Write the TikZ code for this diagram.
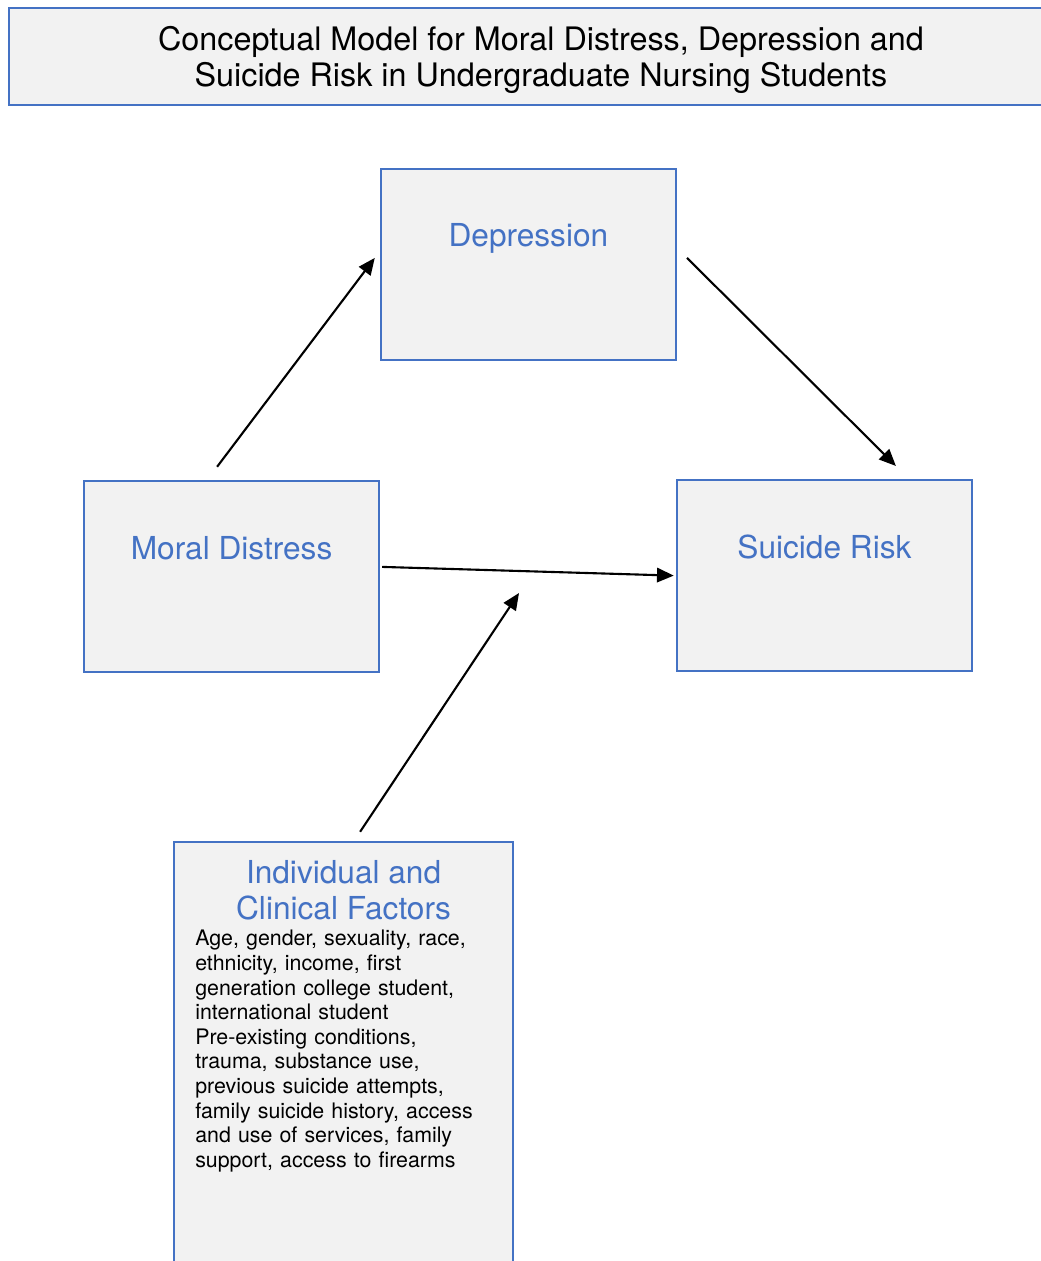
\documentclass[tikz,border=0pt]{standalone}
\usepackage{fontspec}
\setmainfont{TeX Gyre Heros}
\usetikzlibrary{arrows.meta}
\definecolor{boxblue}{HTML}{4472C4}
\definecolor{boxfill}{HTML}{F2F2F2}
\tikzset{
  box/.style={draw=boxblue,fill=boxfill,line width=1.6pt,rectangle,inner sep=0pt},
  lbl/.style={text=boxblue,font=\fontsize{22.5}{25.6}\selectfont,align=center,inner sep=0pt},
  arr/.style={->,line width=1.5pt}
}
\begin{document}
\begin{tikzpicture}[>={Triangle[length=0.42cm,width=0.36cm]}]
\useasboundingbox (0,0) rectangle (26,-31.525);
\node[box,minimum width=26.6cm,minimum height=2.425cm] (title) at (13.525,-1.41) {};
\node[align=center,inner sep=0pt,font=\fontsize{23}{25.8}\selectfont] (titletxt) at (13.525,-1.5) {Conceptual Model for Moral Distress, Depression and\\Suicide Risk in Undergraduate Nursing Students};

\node[box,minimum width=7.375cm,minimum height=4.775cm] (dep) at (13.21,-6.61) {};
\node[lbl] (deplbl) at (13.21,-5.97) {Depression};
\node[box,minimum width=7.375cm,minimum height=4.775cm] (md) at (5.79,-14.41) {};
\node[lbl] (mdlbl) at (5.79,-13.7) {Moral Distress};
\node[box,minimum width=7.375cm,minimum height=4.775cm] (sr) at (20.61,-14.39) {};
\node[lbl] (srlbl) at (20.61,-13.68) {Suicide Risk};

\node[box,minimum width=8.475cm,minimum height=10.825cm] (ind) at (8.59,-26.46) {};
\node[lbl] (indlbl) at (8.59,-22.25) {Individual and\\Clinical Factors};
\node[anchor=north west,inner sep=0pt,align=left,text width=7.6cm,font=\fontsize{15.2}{17.5}\selectfont] (indtxt) at (4.875,-23.25) {Age, gender, sexuality, race,\\ethnicity, income, first\\generation college student,\\international student\\Pre-existing conditions,\\trauma, substance use,\\previous suicide attempts,\\family suicide history, access\\and use of services, family\\support, access to firearms};

\coordinate (mod) at (12.975,-14.825);

\draw[arr] ([xshift=-0.3625cm,yshift=0.325cm]md.north) -- ([xshift=-0.125cm,yshift=0.1625cm]dep.west);
\draw[arr] ([xshift=0.25cm,yshift=0.1625cm]dep.east) -- ([xshift=1.7875cm,yshift=0.325cm]sr.north);
\draw[arr] ([xshift=0.05cm,yshift=0.2375cm]md.east) -- ([xshift=-0.05cm]sr.west);
\draw[arr] ([xshift=0.4125cm,yshift=0.225cm]ind.north) -- (mod);
\end{tikzpicture}
\end{document}
